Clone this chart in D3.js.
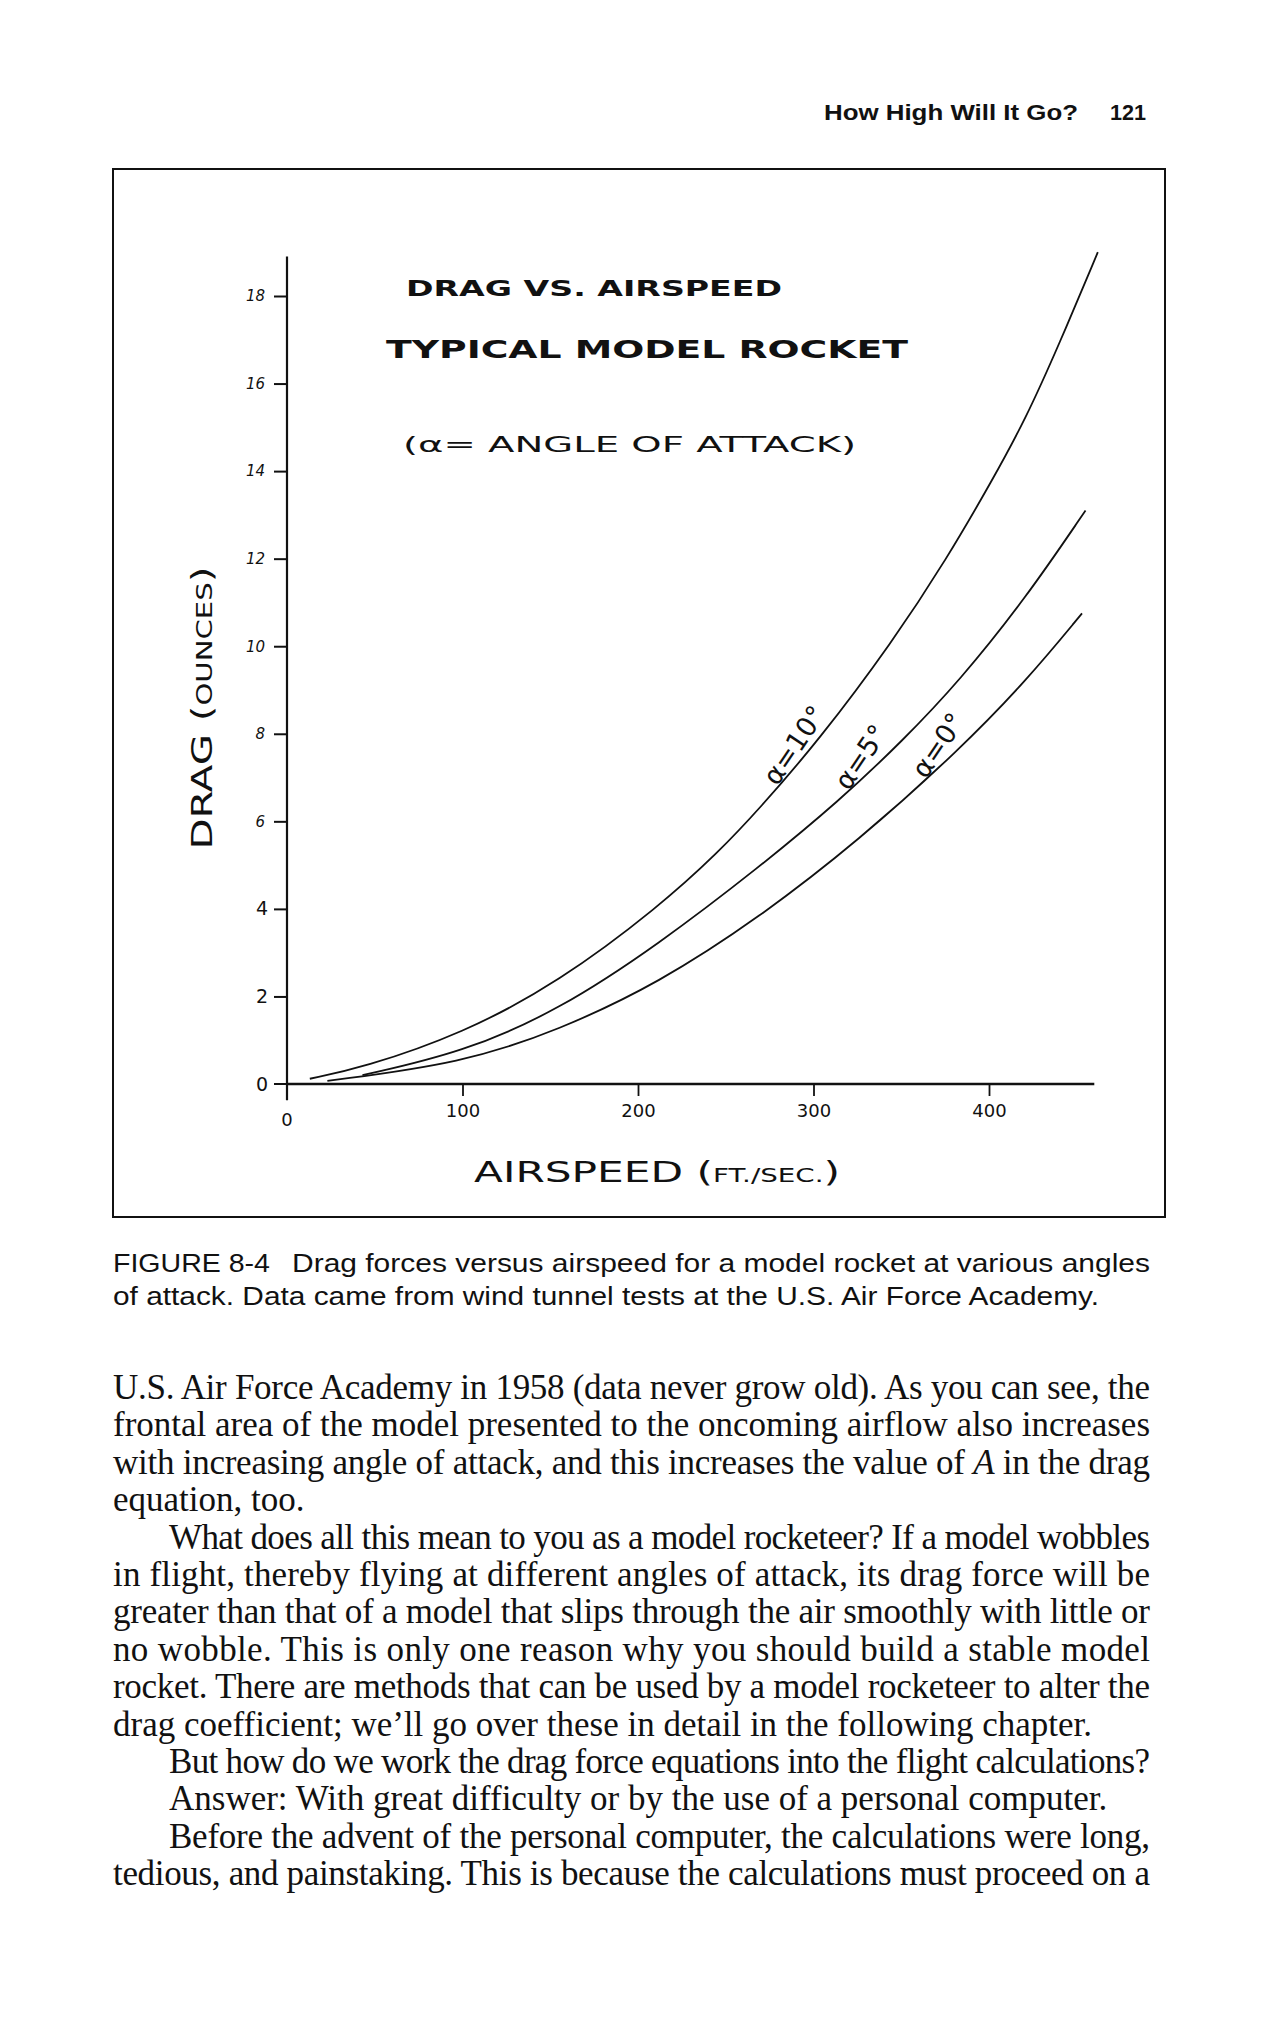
<!DOCTYPE html>
<html><head><meta charset="utf-8">
<script src="https://cdn.jsdelivr.net/npm/d3@7"></script>
<style>
html,body{margin:0;padding:0;background:#fff;}
svg{display:block;}
</style></head>
<body>
<div id="chart"></div>
<script>
// ---------- data ----------
const seriesNames = ["α=10°", "α=5°", "α=0°"];
const speed10 = [13, 43, 100, 155, 212, 246, 269, 303, 345, 376, 402, 421, 440, 462];
const drag10  = [0.12, 0.37, 1.15, 2.33, 4.05, 5.3, 6.28, 7.85, 10.1, 12.0, 13.8, 15.2, 16.9, 19.0];
const speed5  = [43, 100, 155, 212, 269, 315, 351, 383, 421, 455];
const drag5   = [0.2, 0.72, 1.69, 3.2, 4.95, 6.48, 7.85, 9.2, 11.1, 13.1];
const speed0  = [23, 100, 155, 212, 269, 326, 383, 421, 453];
const drag0   = [0.07, 0.48, 1.23, 2.31, 3.8, 5.57, 7.63, 9.2, 10.75];
const labelSpeed = [289, 327, 371];
const labelDrag  = [7.74, 7.47, 7.74];
const xTicks = [0, 100, 200, 300, 400];
const yTicks = [0, 2, 4, 6, 8, 10, 12, 14, 16, 18];

const W = 1276, H = 2018;
const svg = d3.select("#chart").append("svg").attr("width", W).attr("height", H)
  .style("background", "#fff");

// ---------- page header ----------
const hdr = svg.append("g").attr("font-family", "'Liberation Sans', Arial, sans-serif")
  .attr("font-weight", "bold").attr("fill", "#111").attr("font-size", 22);
hdr.append("text").attr("x", 824).attr("y", 120).attr("textLength", 254)
  .attr("lengthAdjust", "spacingAndGlyphs").text("How High Will It Go?");
hdr.append("text").attr("x", 1110).attr("y", 120).attr("textLength", 36)
  .attr("lengthAdjust", "spacingAndGlyphs").text("121");

// ---------- frame ----------
svg.append("rect").attr("x", 113).attr("y", 169).attr("width", 1052).attr("height", 1048)
  .attr("fill", "none").attr("stroke", "#111").attr("stroke-width", 2);

// ---------- scales ----------
const x = d3.scaleLinear().domain([0, 400]).range([287, 989]);
const y = d3.scaleLinear().domain([0, 18]).range([1084, 296]);

const ink = "#111";
const g = svg.append("g");

// axes lines
g.append("line").attr("x1", x(0)).attr("x2", x(460)).attr("y1", y(0)).attr("y2", y(0))
  .attr("stroke", ink).attr("stroke-width", 2.6);
g.append("line").attr("x1", x(0)).attr("x2", x(0)).attr("y1", y(18.9)).attr("y2", y(-0.37))
  .attr("stroke", ink).attr("stroke-width", 2.2);

// y axis
const yAxis = d3.axisLeft(y).tickValues(yTicks.filter(d => d > 0)).tickSize(13).tickPadding(6)
  .tickFormat(d => d);
const gy = g.append("g").attr("transform", `translate(${x(0)},0)`).call(yAxis);
gy.select(".domain").remove();
gy.selectAll(".tick line").attr("stroke", ink).attr("stroke-width", 2);
gy.selectAll(".tick text").attr("fill", ink)
  .attr("font-family", "'DejaVu Sans', sans-serif")
  .attr("font-size", d => d >= 6 ? 15 : 19)
  .attr("font-style", d => d >= 6 ? "italic" : "normal")
  .attr("dx", d => d >= 6 ? -3 : 0);
// zero tick on y
g.append("line").attr("x1", x(0) - 13).attr("x2", x(0)).attr("y1", y(0)).attr("y2", y(0))
  .attr("stroke", ink).attr("stroke-width", 2);
g.append("text").attr("x", x(0) - 19).attr("y", y(0)).attr("dy", "0.35em")
  .attr("text-anchor", "end").attr("font-family", "'DejaVu Sans', sans-serif")
  .attr("font-size", 19).attr("fill", ink).text(yTicks[0]);

// x axis
const xAxis = d3.axisBottom(x).tickValues(xTicks.filter(d => d > 0)).tickSize(12).tickPadding(8)
  .tickFormat(d => d);
const gx = g.append("g").attr("transform", `translate(0,${y(0)})`).call(xAxis);
gx.select(".domain").remove();
gx.selectAll(".tick line").attr("stroke", ink).attr("stroke-width", 1.8);
gx.selectAll(".tick text").attr("fill", ink)
  .attr("font-family", "'DejaVu Sans', sans-serif").attr("font-size", 18);
g.append("text").attr("x", x(0)).attr("y", y(0) + 42).attr("text-anchor", "middle")
  .attr("font-family", "'DejaVu Sans', sans-serif").attr("font-size", 18).attr("fill", ink)
  .text(xTicks[0]);

// ---------- curves ----------
const series = [
  {name: seriesNames[0], v: speed10, d: drag10},
  {name: seriesNames[1], v: speed5, d: drag5},
  {name: seriesNames[2], v: speed0, d: drag0}
];
const line = d3.line().x(p => x(p[0])).y(p => y(p[1])).curve(d3.curveBasis);
series.forEach((s, i) => {
  g.append("path").datum(s.v.map((v, j) => [v, s.d[j]]))
    .attr("d", line).attr("fill", "none").attr("stroke", ink).attr("stroke-width", 1.8);
  const lx = x(labelSpeed[i]), ly = y(labelDrag[i]);
  g.append("text").attr("transform", `translate(${lx},${ly}) rotate(-56)`)
    .attr("text-anchor", "middle").attr("dy", "0.35em")
    .attr("font-family", "'DejaVu Sans', sans-serif").attr("font-size", 27)
    .attr("fill", ink).text(s.name);
});

// ---------- in-plot titles ----------
const tfont = "'DejaVu Sans', sans-serif";
g.append("text").attr("x", 406).attr("y", 296).attr("font-family", tfont).attr("font-weight", "bold")
  .attr("font-size", 21).attr("textLength", 376).attr("lengthAdjust", "spacingAndGlyphs")
  .attr("fill", ink).text("DRAG VS. AIRSPEED");
g.append("text").attr("x", 386).attr("y", 358).attr("font-family", tfont).attr("font-weight", "bold")
  .attr("font-size", 25).attr("textLength", 522).attr("lengthAdjust", "spacingAndGlyphs")
  .attr("fill", ink).text("TYPICAL MODEL ROCKET");
g.append("text").attr("x", 403).attr("y", 452).attr("font-family", tfont)
  .attr("font-size", 21).attr("textLength", 453).attr("lengthAdjust", "spacingAndGlyphs")
  .attr("fill", ink).text("(α= ANGLE OF ATTACK)");

// ---------- axis titles ----------
const yt = g.append("text").attr("transform", "translate(212,708) rotate(-90)")
  .attr("text-anchor", "middle").attr("font-family", tfont).attr("fill", ink)
  .attr("textLength", 283).attr("lengthAdjust", "spacingAndGlyphs");
yt.append("tspan").attr("font-size", 29).text("DRAG ");
yt.append("tspan").attr("font-size", 29).text("(");
yt.append("tspan").attr("font-size", 21).text("OUNCES");
yt.append("tspan").attr("font-size", 29).text(")");

const xt = g.append("text").attr("x", 657).attr("y", 1182)
  .attr("text-anchor", "middle").attr("font-family", tfont).attr("fill", ink)
  .attr("textLength", 366).attr("lengthAdjust", "spacingAndGlyphs");
xt.append("tspan").attr("font-size", 29).text("AIRSPEED ");
xt.append("tspan").attr("font-size", 29).text("(");
xt.append("tspan").attr("font-size", 19).text("FT./SEC.");
xt.append("tspan").attr("font-size", 29).text(")");

// ---------- caption ----------
const cap = svg.append("g").attr("font-family", "'Liberation Sans Narrow', 'Liberation Sans', Arial, sans-serif")
  .attr("font-size", 25).attr("fill", "#111");
cap.append("text").attr("x", 113).attr("y", 1272).attr("textLength", 157)
  .attr("lengthAdjust", "spacingAndGlyphs").text("FIGURE 8-4");
cap.append("text").attr("x", 292).attr("y", 1272).attr("textLength", 858)
  .attr("lengthAdjust", "spacingAndGlyphs")
  .text("Drag forces versus airspeed for a model rocket at various angles");
cap.append("text").attr("x", 113).attr("y", 1305).attr("textLength", 986)
  .attr("lengthAdjust", "spacingAndGlyphs")
  .text("of attack. Data came from wind tunnel tests at the U.S. Air Force Academy.");

// ---------- body text ----------
const bodyLines = [
  ["U.S. Air Force Academy in 1958 (data never grow old). As you can see, the", 0, true],
  ["frontal area of the model presented to the oncoming airflow also increases", 0, true],
  ["with increasing angle of attack, and this increases the value of A in the drag", 0, true],
  ["equation, too.", 0, false],
  ["What does all this mean to you as a model rocketeer? If a model wobbles", 1, true],
  ["in flight, thereby flying at different angles of attack, its drag force will be", 0, true],
  ["greater than that of a model that slips through the air smoothly with little or", 0, true],
  ["no wobble. This is only one reason why you should build a stable model", 0, true],
  ["rocket. There are methods that can be used by a model rocketeer to alter the", 0, true],
  ["drag coefficient; we’ll go over these in detail in the following chapter.", 0, false],
  ["But how do we work the drag force equations into the flight calculations?", 1, true],
  ["Answer: With great difficulty or by the use of a personal computer.", 1, false],
  ["Before the advent of the personal computer, the calculations were long,", 1, true],
  ["tedious, and painstaking. This is because the calculations must proceed on a", 0, true]
];
const body = svg.append("g").attr("font-family", "'Liberation Serif', 'Times New Roman', serif")
  .attr("font-size", 35).attr("fill", "#111");
bodyLines.forEach((l, i) => {
  const x0 = l[1] ? 169 : 113;
  const t = body.append("text").attr("x", x0).attr("y", 1399 + i * 37.4).text(l[0]);
  if (l[2]) t.attr("textLength", 1150 - x0).attr("lengthAdjust", "spacing");
  if (l[0].includes("value of A")) {
    t.text(null);
    t.append("tspan").text("with increasing angle of attack, and this increases the value of ");
    t.append("tspan").attr("font-style", "italic").text("A");
    t.append("tspan").text(" in the drag");
  }
});
</script>
</body></html>
